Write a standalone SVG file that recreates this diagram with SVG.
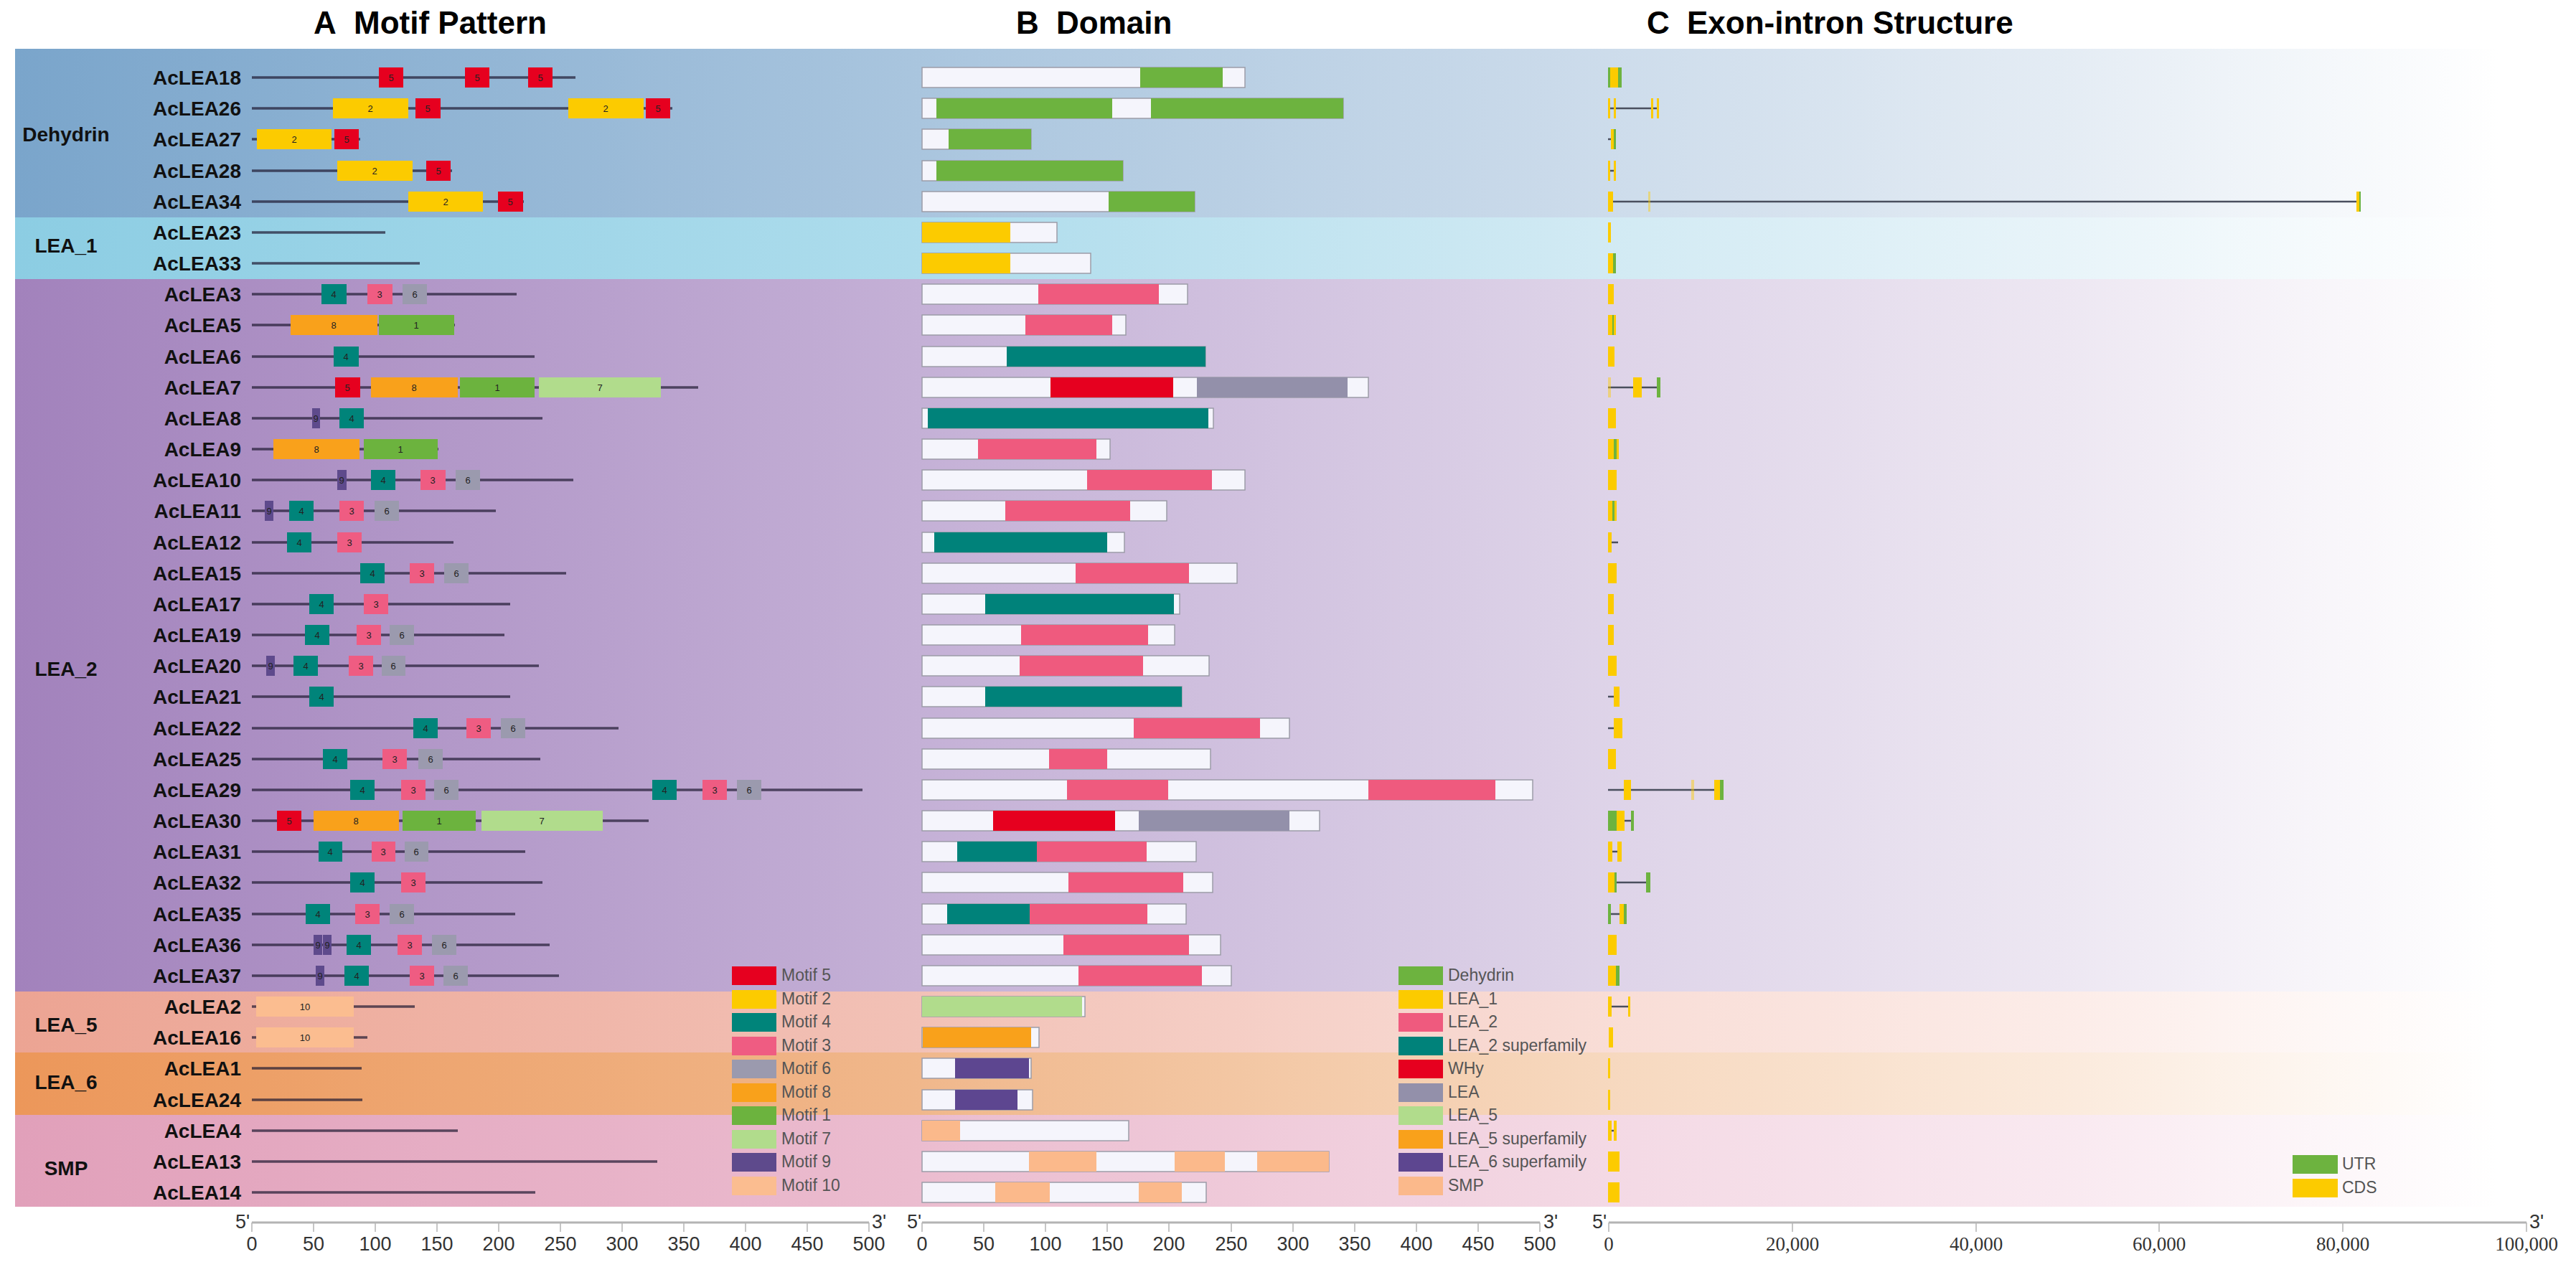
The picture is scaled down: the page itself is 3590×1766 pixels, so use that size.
<svg xmlns="http://www.w3.org/2000/svg" width="3590" height="1766" viewBox="0 0 3590 1766">
<style>
text{font-family:"Liberation Sans",Arial,sans-serif}
.ttl{font-weight:bold;font-size:44px;fill:#000}
.lbl{font-weight:bold;font-size:28px;text-anchor:end;fill:#111}
.grp{font-weight:bold;font-size:28px;text-anchor:middle;fill:#111}
.ml{stroke:#1e1830;stroke-opacity:.7;stroke-width:3.5}
.mt{font-size:13px;text-anchor:middle;fill:#222}
.m1{fill:#6cb33e}.m2{fill:#fccb00}.m3{fill:#ef5c82}.m4{fill:#00847a}.m5{fill:#e6001f}
.m6{fill:#9b9aae}.m7{fill:#b1dc8c}.m8{fill:#f9a11b}.m9{fill:#5e4a8c}.m10{fill:#fbbd90}
.bar{fill:#f5f5fc;stroke:#9c9ca8;stroke-width:1.5}
.dDeh{fill:#6db33f}.dL1{fill:#fccb00}.dL2{fill:#ef5a7e}.dL2s{fill:#00827a}.dWHy{fill:#e6001f}
.dLEA{fill:#9390aa}.dL5{fill:#b1dc8c}.dL5s{fill:#f9a11b}.dL6s{fill:#5d4690}.dSMP{fill:#fbb98b}
.Y{fill:#fccb00}.G{fill:#6db33f}.Yf{fill:#fccb00;opacity:.45}
.in{stroke:#4a4f5e;stroke-width:2.5}
.leg{font-size:23px;fill:#555}
.ax{stroke:#b4b4b4;stroke-width:3}
.tk{stroke:#b4b4b4;stroke-width:1.5}
.tl{font-size:27px;fill:#333;text-anchor:middle}
.tls{font-family:"Liberation Serif","Times New Roman",serif;font-size:27px;fill:#333;text-anchor:middle}
.pr{font-size:27px;fill:#333}
</style>
<defs>
<linearGradient id="gDeh" gradientUnits="userSpaceOnUse" x1="21" y1="0" x2="3590" y2="0">
<stop offset="0" stop-color="#7aa5cb"/><stop offset="0.35" stop-color="#a9c5de"/><stop offset="0.6" stop-color="#cadaea"/><stop offset="0.8" stop-color="#e4ecf4"/><stop offset="0.97" stop-color="#ffffff"/></linearGradient>
<linearGradient id="gL1" gradientUnits="userSpaceOnUse" x1="21" y1="0" x2="3590" y2="0">
<stop offset="0" stop-color="#8ccde3"/><stop offset="0.35" stop-color="#addcec"/><stop offset="0.6" stop-color="#cfe9f3"/><stop offset="0.8" stop-color="#e8f4f9"/><stop offset="0.97" stop-color="#ffffff"/></linearGradient>
<linearGradient id="gL2" gradientUnits="userSpaceOnUse" x1="21" y1="0" x2="3590" y2="0">
<stop offset="0" stop-color="#a282bc"/><stop offset="0.35" stop-color="#c4b0d6"/><stop offset="0.6" stop-color="#dcd1e7"/><stop offset="0.8" stop-color="#ede7f2"/><stop offset="0.97" stop-color="#ffffff"/></linearGradient>
<linearGradient id="gL5" gradientUnits="userSpaceOnUse" x1="21" y1="0" x2="3590" y2="0">
<stop offset="0" stop-color="#eca493"/><stop offset="0.35" stop-color="#f2c1b6"/><stop offset="0.6" stop-color="#f8dbd4"/><stop offset="0.8" stop-color="#fcece8"/><stop offset="0.97" stop-color="#ffffff"/></linearGradient>
<linearGradient id="gL6" gradientUnits="userSpaceOnUse" x1="21" y1="0" x2="3590" y2="0">
<stop offset="0" stop-color="#ec975a"/><stop offset="0.35" stop-color="#f0b78b"/><stop offset="0.6" stop-color="#f6d6bb"/><stop offset="0.8" stop-color="#fbeadc"/><stop offset="0.97" stop-color="#ffffff"/></linearGradient>
<linearGradient id="gSMP" gradientUnits="userSpaceOnUse" x1="21" y1="0" x2="3590" y2="0">
<stop offset="0" stop-color="#e1a0ba"/><stop offset="0.35" stop-color="#ebbccf"/><stop offset="0.6" stop-color="#f3d7e3"/><stop offset="0.8" stop-color="#f9e9f0"/><stop offset="0.97" stop-color="#ffffff"/></linearGradient>
</defs>
<rect width="3590" height="1766" fill="#ffffff"/>
<g id="bands">
<rect x="21" y="68" width="3569" height="235" fill="url(#gDeh)"/>
<rect x="21" y="303" width="3569" height="86" fill="url(#gL1)"/>
<rect x="21" y="389" width="3569" height="993" fill="url(#gL2)"/>
<rect x="21" y="1382" width="3569" height="85" fill="url(#gL5)"/>
<rect x="21" y="1467" width="3569" height="87" fill="url(#gL6)"/>
<rect x="21" y="1554" width="3569" height="128" fill="url(#gSMP)"/>
</g>
<g id="titles">
<text class="ttl" x="437" y="47">A<tspan x="493">Motif Pattern</tspan></text>
<text class="ttl" x="1416" y="47">B<tspan x="1472">Domain</tspan></text>
<text class="ttl" x="2295" y="47">C<tspan x="2351">Exon-intron Structure</tspan></text>
</g>
<g id="groups">
<text class="grp" x="92" y="197">Dehydrin</text>
<text class="grp" x="92" y="352">LEA_1</text>
<text class="grp" x="92" y="942">LEA_2</text>
<text class="grp" x="92" y="1438">LEA_5</text>
<text class="grp" x="92" y="1518">LEA_6</text>
<text class="grp" x="92" y="1638">SMP</text>
</g>
<g id="genes">
<g id="AcLEA18" transform="translate(0,108)"><text class="lbl" x="336" y="10">AcLEA18</text>
<line class="ml" x1="351" y1="0" x2="802" y2="0"/>
<rect class="m5" x="528" y="-14" width="34" height="28"/><text class="mt" x="545" y="5">5</text>
<rect class="m5" x="648" y="-14" width="34" height="28"/><text class="mt" x="665" y="5">5</text>
<rect class="m5" x="736" y="-14" width="34" height="28"/><text class="mt" x="753" y="5">5</text>
<rect class="bar" x="1285" y="-14" width="450" height="28"/><rect class="dDeh" x="1589" y="-14" width="115" height="28"/>
<rect class="Y" x="2241" y="-14" width="19" height="28"/><rect class="G" x="2241" y="-14" width="3" height="28"/><rect class="G" x="2255" y="-14" width="5" height="28"/>
</g>
<g id="AcLEA26" transform="translate(0,151)"><text class="lbl" x="336" y="10">AcLEA26</text>
<line class="ml" x1="351" y1="0" x2="937" y2="0"/>
<rect class="m2" x="464" y="-14" width="105" height="28"/><text class="mt" x="516" y="5">2</text>
<rect class="m5" x="579" y="-14" width="35" height="28"/><text class="mt" x="596" y="5">5</text>
<rect class="m2" x="792" y="-14" width="105" height="28"/><text class="mt" x="844" y="5">2</text>
<rect class="m5" x="900" y="-14" width="34" height="28"/><text class="mt" x="917" y="5">5</text>
<rect class="bar" x="1285" y="-14" width="587" height="28"/><rect class="dDeh" x="1305" y="-14" width="245" height="28"/><rect class="dDeh" x="1604" y="-14" width="268" height="28"/>
<line class="in" x1="2244" y1="0" x2="2309" y2="0"/>
<rect class="Y" x="2241" y="-14" width="3" height="28"/><rect class="Y" x="2249" y="-14" width="3" height="28"/><rect class="Y" x="2301" y="-14" width="3" height="28"/><rect class="Y" x="2309" y="-14" width="3" height="28"/>
</g>
<g id="AcLEA27" transform="translate(0,194)"><text class="lbl" x="336" y="10">AcLEA27</text>
<line class="ml" x1="351" y1="0" x2="502" y2="0"/>
<rect class="m2" x="358" y="-14" width="104" height="28"/><text class="mt" x="410" y="5">2</text>
<rect class="m5" x="466" y="-14" width="34" height="28"/><text class="mt" x="483" y="5">5</text>
<rect class="bar" x="1285" y="-14" width="152" height="28"/><rect class="dDeh" x="1322" y="-14" width="115" height="28"/>
<line class="in" x1="2241" y1="0" x2="2245" y2="0"/><rect class="Y" x="2245" y="-14" width="4" height="28"/><rect class="G" x="2249" y="-14" width="3" height="28"/>
</g>
<g id="AcLEA28" transform="translate(0,238)"><text class="lbl" x="336" y="10">AcLEA28</text>
<line class="ml" x1="351" y1="0" x2="630" y2="0"/>
<rect class="m2" x="470" y="-14" width="105" height="28"/><text class="mt" x="522" y="5">2</text>
<rect class="m5" x="594" y="-14" width="34" height="28"/><text class="mt" x="611" y="5">5</text>
<rect class="bar" x="1285" y="-14" width="280" height="28"/><rect class="dDeh" x="1305" y="-14" width="260" height="28"/>
<line class="in" x1="2244" y1="0" x2="2249" y2="0"/><rect class="Y" x="2241" y="-14" width="3" height="28"/><rect class="Y" x="2249" y="-14" width="3" height="28"/>
</g>
<g id="AcLEA34" transform="translate(0,281)"><text class="lbl" x="336" y="10">AcLEA34</text>
<line class="ml" x1="351" y1="0" x2="730" y2="0"/>
<rect class="m2" x="569" y="-14" width="104" height="28"/><text class="mt" x="621" y="5">2</text>
<rect class="m5" x="694" y="-14" width="35" height="28"/><text class="mt" x="711" y="5">5</text>
<rect class="bar" x="1285" y="-14" width="380" height="28"/><rect class="dDeh" x="1545" y="-14" width="120" height="28"/>
<line class="in" x1="2248" y1="0" x2="3288" y2="0" stroke-width="3.5"/>
<rect class="Y" x="2241" y="-14" width="7" height="28"/><rect class="Yf" x="2297" y="-14" width="3" height="28"/><rect class="Y" x="3284" y="-14" width="4" height="28"/><rect class="G" x="3288" y="-14" width="2" height="28"/>
</g>
<g id="AcLEA23" transform="translate(0,324)"><text class="lbl" x="336" y="10">AcLEA23</text>
<line class="ml" x1="351" y1="0" x2="537" y2="0"/>
<rect class="bar" x="1285" y="-14" width="188" height="28"/><rect class="dL1" x="1285" y="-14" width="123" height="28"/>
<rect class="Y" x="2241" y="-14" width="4" height="28"/>
</g>
<g id="AcLEA33" transform="translate(0,367)"><text class="lbl" x="336" y="10">AcLEA33</text>
<line class="ml" x1="351" y1="0" x2="585" y2="0"/>
<rect class="bar" x="1285" y="-14" width="235" height="28"/><rect class="dL1" x="1285" y="-14" width="123" height="28"/>
<rect class="Y" x="2241" y="-14" width="7" height="28"/><rect class="G" x="2248" y="-14" width="4" height="28"/>
</g>
<g id="AcLEA3" transform="translate(0,410)"><text class="lbl" x="336" y="10">AcLEA3</text>
<line class="ml" x1="351" y1="0" x2="720" y2="0"/>
<rect class="m4" x="448" y="-14" width="35" height="28"/><text class="mt" x="465" y="5">4</text>
<rect class="m3" x="512" y="-14" width="35" height="28"/><text class="mt" x="529" y="5">3</text>
<rect class="m6" x="561" y="-14" width="34" height="28"/><text class="mt" x="578" y="5">6</text>
<rect class="bar" x="1285" y="-14" width="370" height="28"/><rect class="dL2" x="1447" y="-14" width="168" height="28"/>
<rect class="Y" x="2241" y="-14" width="8" height="28"/>
</g>
<g id="AcLEA5" transform="translate(0,453)"><text class="lbl" x="336" y="10">AcLEA5</text>
<line class="ml" x1="351" y1="0" x2="634" y2="0"/>
<rect class="m8" x="405" y="-14" width="121" height="28"/><text class="mt" x="465" y="5">8</text>
<rect class="m1" x="528" y="-14" width="105" height="28"/><text class="mt" x="580" y="5">1</text>
<rect class="bar" x="1285" y="-14" width="284" height="28"/><rect class="dL2" x="1429" y="-14" width="121" height="28"/>
<rect class="Y" x="2241" y="-14" width="6" height="28"/><rect class="G" x="2247" y="-14" width="2" height="28"/><rect class="Y" x="2249" y="-14" width="3" height="28"/>
</g>
<g id="AcLEA6" transform="translate(0,497)"><text class="lbl" x="336" y="10">AcLEA6</text>
<line class="ml" x1="351" y1="0" x2="745" y2="0"/>
<rect class="m4" x="465" y="-14" width="35" height="28"/><text class="mt" x="482" y="5">4</text>
<rect class="bar" x="1285" y="-14" width="395" height="28"/><rect class="dL2s" x="1403" y="-14" width="277" height="28"/>
<rect class="Y" x="2241" y="-14" width="9" height="28"/>
</g>
<g id="AcLEA7" transform="translate(0,540)"><text class="lbl" x="336" y="10">AcLEA7</text>
<line class="ml" x1="351" y1="0" x2="973" y2="0"/>
<rect class="m5" x="467" y="-14" width="35" height="28"/><text class="mt" x="484" y="5">5</text>
<rect class="m8" x="517" y="-14" width="121" height="28"/><text class="mt" x="577" y="5">8</text>
<rect class="m1" x="641" y="-14" width="104" height="28"/><text class="mt" x="693" y="5">1</text>
<rect class="m7" x="751" y="-14" width="170" height="28"/><text class="mt" x="836" y="5">7</text>
<rect class="bar" x="1285" y="-14" width="622" height="28"/><rect class="dWHy" x="1464" y="-14" width="171" height="28"/><rect class="dLEA" x="1668" y="-14" width="210" height="28"/>
<line class="in" x1="2241" y1="0" x2="2310" y2="0"/><rect class="Yf" x="2241" y="-14" width="4" height="28"/><rect class="Y" x="2276" y="-14" width="12" height="28"/><rect class="G" x="2309" y="-14" width="5" height="28"/>
</g>
<g id="AcLEA8" transform="translate(0,583)"><text class="lbl" x="336" y="10">AcLEA8</text>
<line class="ml" x1="351" y1="0" x2="756" y2="0"/>
<rect class="m9" x="435" y="-14" width="11" height="28"/><text class="mt" x="440" y="5">9</text>
<rect class="m4" x="473" y="-14" width="34" height="28"/><text class="mt" x="490" y="5">4</text>
<rect class="bar" x="1285" y="-14" width="406" height="28"/><rect class="dL2s" x="1293" y="-14" width="391" height="28"/>
<rect class="Y" x="2241" y="-14" width="11" height="28"/>
</g>
<g id="AcLEA9" transform="translate(0,626)"><text class="lbl" x="336" y="10">AcLEA9</text>
<line class="ml" x1="351" y1="0" x2="611" y2="0"/>
<rect class="m8" x="381" y="-14" width="120" height="28"/><text class="mt" x="441" y="5">8</text>
<rect class="m1" x="507" y="-14" width="103" height="28"/><text class="mt" x="558" y="5">1</text>
<rect class="bar" x="1285" y="-14" width="262" height="28"/><rect class="dL2" x="1363" y="-14" width="165" height="28"/>
<rect class="Y" x="2241" y="-14" width="8" height="28"/><rect class="G" x="2249" y="-14" width="4" height="28"/><rect class="Y" x="2253" y="-14" width="3" height="28"/>
</g>
<g id="AcLEA10" transform="translate(0,669)"><text class="lbl" x="336" y="10">AcLEA10</text>
<line class="ml" x1="351" y1="0" x2="799" y2="0"/>
<rect class="m9" x="470" y="-14" width="13" height="28"/><text class="mt" x="476" y="5">9</text>
<rect class="m4" x="517" y="-14" width="34" height="28"/><text class="mt" x="534" y="5">4</text>
<rect class="m3" x="586" y="-14" width="35" height="28"/><text class="mt" x="603" y="5">3</text>
<rect class="m6" x="635" y="-14" width="34" height="28"/><text class="mt" x="652" y="5">6</text>
<rect class="bar" x="1285" y="-14" width="450" height="28"/><rect class="dL2" x="1515" y="-14" width="174" height="28"/>
<rect class="Y" x="2241" y="-14" width="12" height="28"/>
</g>
<g id="AcLEA11" transform="translate(0,712)"><text class="lbl" x="336" y="10">AcLEA11</text>
<line class="ml" x1="351" y1="0" x2="691" y2="0"/>
<rect class="m9" x="369" y="-14" width="12" height="28"/><text class="mt" x="375" y="5">9</text>
<rect class="m4" x="403" y="-14" width="34" height="28"/><text class="mt" x="420" y="5">4</text>
<rect class="m3" x="473" y="-14" width="34" height="28"/><text class="mt" x="490" y="5">3</text>
<rect class="m6" x="522" y="-14" width="34" height="28"/><text class="mt" x="539" y="5">6</text>
<rect class="bar" x="1285" y="-14" width="341" height="28"/><rect class="dL2" x="1401" y="-14" width="174" height="28"/>
<rect class="Y" x="2241" y="-14" width="6" height="28"/><rect class="G" x="2247" y="-14" width="3" height="28"/><rect class="Y" x="2250" y="-14" width="3" height="28"/>
</g>
<g id="AcLEA12" transform="translate(0,756)"><text class="lbl" x="336" y="10">AcLEA12</text>
<line class="ml" x1="351" y1="0" x2="632" y2="0"/>
<rect class="m4" x="400" y="-14" width="34" height="28"/><text class="mt" x="417" y="5">4</text>
<rect class="m3" x="470" y="-14" width="34" height="28"/><text class="mt" x="487" y="5">3</text>
<rect class="bar" x="1285" y="-14" width="282" height="28"/><rect class="dL2s" x="1302" y="-14" width="241" height="28"/>
<line class="in" x1="2246" y1="0" x2="2255" y2="0"/><rect class="Y" x="2241" y="-14" width="5" height="28"/>
</g>
<g id="AcLEA15" transform="translate(0,799)"><text class="lbl" x="336" y="10">AcLEA15</text>
<line class="ml" x1="351" y1="0" x2="789" y2="0"/>
<rect class="m4" x="502" y="-14" width="34" height="28"/><text class="mt" x="519" y="5">4</text>
<rect class="m3" x="571" y="-14" width="34" height="28"/><text class="mt" x="588" y="5">3</text>
<rect class="m6" x="619" y="-14" width="34" height="28"/><text class="mt" x="636" y="5">6</text>
<rect class="bar" x="1285" y="-14" width="439" height="28"/><rect class="dL2" x="1499" y="-14" width="158" height="28"/>
<rect class="Y" x="2241" y="-14" width="12" height="28"/>
</g>
<g id="AcLEA17" transform="translate(0,842)"><text class="lbl" x="336" y="10">AcLEA17</text>
<line class="ml" x1="351" y1="0" x2="711" y2="0"/>
<rect class="m4" x="431" y="-14" width="34" height="28"/><text class="mt" x="448" y="5">4</text>
<rect class="m3" x="507" y="-14" width="34" height="28"/><text class="mt" x="524" y="5">3</text>
<rect class="bar" x="1285" y="-14" width="359" height="28"/><rect class="dL2s" x="1373" y="-14" width="263" height="28"/>
<rect class="Y" x="2241" y="-14" width="8" height="28"/>
</g>
<g id="AcLEA19" transform="translate(0,885)"><text class="lbl" x="336" y="10">AcLEA19</text>
<line class="ml" x1="351" y1="0" x2="703" y2="0"/>
<rect class="m4" x="425" y="-14" width="34" height="28"/><text class="mt" x="442" y="5">4</text>
<rect class="m3" x="497" y="-14" width="34" height="28"/><text class="mt" x="514" y="5">3</text>
<rect class="m6" x="543" y="-14" width="34" height="28"/><text class="mt" x="560" y="5">6</text>
<rect class="bar" x="1285" y="-14" width="352" height="28"/><rect class="dL2" x="1423" y="-14" width="177" height="28"/>
<rect class="Y" x="2241" y="-14" width="8" height="28"/>
</g>
<g id="AcLEA20" transform="translate(0,928)"><text class="lbl" x="336" y="10">AcLEA20</text>
<line class="ml" x1="351" y1="0" x2="751" y2="0"/>
<rect class="m9" x="371" y="-14" width="12" height="28"/><text class="mt" x="377" y="5">9</text>
<rect class="m4" x="409" y="-14" width="34" height="28"/><text class="mt" x="426" y="5">4</text>
<rect class="m3" x="486" y="-14" width="34" height="28"/><text class="mt" x="503" y="5">3</text>
<rect class="m6" x="532" y="-14" width="33" height="28"/><text class="mt" x="548" y="5">6</text>
<rect class="bar" x="1285" y="-14" width="400" height="28"/><rect class="dL2" x="1421" y="-14" width="172" height="28"/>
<rect class="Y" x="2241" y="-14" width="12" height="28"/>
</g>
<g id="AcLEA21" transform="translate(0,971)"><text class="lbl" x="336" y="10">AcLEA21</text>
<line class="ml" x1="351" y1="0" x2="711" y2="0"/>
<rect class="m4" x="431" y="-14" width="34" height="28"/><text class="mt" x="448" y="5">4</text>
<rect class="bar" x="1285" y="-14" width="362" height="28"/><rect class="dL2s" x="1373" y="-14" width="274" height="28"/>
<line class="in" x1="2241" y1="0" x2="2249" y2="0"/><rect class="Y" x="2249" y="-14" width="8" height="28"/>
</g>
<g id="AcLEA22" transform="translate(0,1015)"><text class="lbl" x="336" y="10">AcLEA22</text>
<line class="ml" x1="351" y1="0" x2="862" y2="0"/>
<rect class="m4" x="576" y="-14" width="34" height="28"/><text class="mt" x="593" y="5">4</text>
<rect class="m3" x="650" y="-14" width="34" height="28"/><text class="mt" x="667" y="5">3</text>
<rect class="m6" x="698" y="-14" width="34" height="28"/><text class="mt" x="715" y="5">6</text>
<rect class="bar" x="1285" y="-14" width="512" height="28"/><rect class="dL2" x="1580" y="-14" width="176" height="28"/>
<line class="in" x1="2241" y1="0" x2="2249" y2="0"/><rect class="Y" x="2249" y="-14" width="12" height="28"/>
</g>
<g id="AcLEA25" transform="translate(0,1058)"><text class="lbl" x="336" y="10">AcLEA25</text>
<line class="ml" x1="351" y1="0" x2="753" y2="0"/>
<rect class="m4" x="450" y="-14" width="34" height="28"/><text class="mt" x="467" y="5">4</text>
<rect class="m3" x="533" y="-14" width="34" height="28"/><text class="mt" x="550" y="5">3</text>
<rect class="m6" x="583" y="-14" width="34" height="28"/><text class="mt" x="600" y="5">6</text>
<rect class="bar" x="1285" y="-14" width="402" height="28"/><rect class="dL2" x="1462" y="-14" width="81" height="28"/>
<rect class="Y" x="2241" y="-14" width="11" height="28"/>
</g>
<g id="AcLEA29" transform="translate(0,1101)"><text class="lbl" x="336" y="10">AcLEA29</text>
<line class="ml" x1="351" y1="0" x2="1202" y2="0"/>
<rect class="m4" x="488" y="-14" width="34" height="28"/><text class="mt" x="505" y="5">4</text>
<rect class="m3" x="559" y="-14" width="34" height="28"/><text class="mt" x="576" y="5">3</text>
<rect class="m6" x="605" y="-14" width="34" height="28"/><text class="mt" x="622" y="5">6</text>
<rect class="m4" x="909" y="-14" width="34" height="28"/><text class="mt" x="926" y="5">4</text>
<rect class="m3" x="979" y="-14" width="34" height="28"/><text class="mt" x="996" y="5">3</text>
<rect class="m6" x="1027" y="-14" width="34" height="28"/><text class="mt" x="1044" y="5">6</text>
<rect class="bar" x="1285" y="-14" width="851" height="28"/><rect class="dL2" x="1487" y="-14" width="141" height="28"/><rect class="dL2" x="1907" y="-14" width="177" height="28"/>
<line class="in" x1="2241" y1="0" x2="2402" y2="0"/><rect class="Y" x="2263" y="-14" width="10" height="28"/><rect class="Yf" x="2357" y="-14" width="4" height="28"/><rect class="Y" x="2389" y="-14" width="8" height="28"/><rect class="G" x="2397" y="-14" width="5" height="28"/>
</g>
<g id="AcLEA30" transform="translate(0,1144)"><text class="lbl" x="336" y="10">AcLEA30</text>
<line class="ml" x1="351" y1="0" x2="904" y2="0"/>
<rect class="m5" x="386" y="-14" width="34" height="28"/><text class="mt" x="403" y="5">5</text>
<rect class="m8" x="437" y="-14" width="119" height="28"/><text class="mt" x="496" y="5">8</text>
<rect class="m1" x="561" y="-14" width="102" height="28"/><text class="mt" x="612" y="5">1</text>
<rect class="m7" x="671" y="-14" width="169" height="28"/><text class="mt" x="755" y="5">7</text>
<rect class="bar" x="1285" y="-14" width="554" height="28"/><rect class="dWHy" x="1384" y="-14" width="170" height="28"/><rect class="dLEA" x="1587" y="-14" width="210" height="28"/>
<line class="in" x1="2264" y1="0" x2="2274" y2="0"/><rect class="G" x="2241" y="-14" width="12" height="28"/><rect class="Y" x="2253" y="-14" width="11" height="28"/><rect class="G" x="2273" y="-14" width="4" height="28"/>
</g>
<g id="AcLEA31" transform="translate(0,1187)"><text class="lbl" x="336" y="10">AcLEA31</text>
<line class="ml" x1="351" y1="0" x2="732" y2="0"/>
<rect class="m4" x="444" y="-14" width="33" height="28"/><text class="mt" x="460" y="5">4</text>
<rect class="m3" x="518" y="-14" width="33" height="28"/><text class="mt" x="534" y="5">3</text>
<rect class="m6" x="564" y="-14" width="33" height="28"/><text class="mt" x="580" y="5">6</text>
<rect class="bar" x="1285" y="-14" width="382" height="28"/><rect class="dL2s" x="1334" y="-14" width="111" height="28"/><rect class="dL2" x="1445" y="-14" width="153" height="28"/>
<line class="in" x1="2247" y1="0" x2="2254" y2="0"/><rect class="Y" x="2241" y="-14" width="6" height="28"/><rect class="Y" x="2254" y="-14" width="6" height="28"/>
</g>
<g id="AcLEA32" transform="translate(0,1230)"><text class="lbl" x="336" y="10">AcLEA32</text>
<line class="ml" x1="351" y1="0" x2="756" y2="0"/>
<rect class="m4" x="488" y="-14" width="34" height="28"/><text class="mt" x="505" y="5">4</text>
<rect class="m3" x="559" y="-14" width="34" height="28"/><text class="mt" x="576" y="5">3</text>
<rect class="bar" x="1285" y="-14" width="405" height="28"/><rect class="dL2" x="1489" y="-14" width="160" height="28"/>
<line class="in" x1="2253" y1="0" x2="2295" y2="0"/><rect class="Y" x="2241" y="-14" width="9" height="28"/><rect class="G" x="2250" y="-14" width="3" height="28"/><rect class="G" x="2294" y="-14" width="6" height="28"/>
</g>
<g id="AcLEA35" transform="translate(0,1274)"><text class="lbl" x="336" y="10">AcLEA35</text>
<line class="ml" x1="351" y1="0" x2="718" y2="0"/>
<rect class="m4" x="426" y="-14" width="34" height="28"/><text class="mt" x="443" y="5">4</text>
<rect class="m3" x="495" y="-14" width="34" height="28"/><text class="mt" x="512" y="5">3</text>
<rect class="m6" x="543" y="-14" width="34" height="28"/><text class="mt" x="560" y="5">6</text>
<rect class="bar" x="1285" y="-14" width="368" height="28"/><rect class="dL2s" x="1320" y="-14" width="115" height="28"/><rect class="dL2" x="1435" y="-14" width="164" height="28"/>
<line class="in" x1="2245" y1="0" x2="2257" y2="0"/><rect class="G" x="2241" y="-14" width="4" height="28"/><rect class="Y" x="2257" y="-14" width="6" height="28"/><rect class="G" x="2263" y="-14" width="4" height="28"/>
</g>
<g id="AcLEA36" transform="translate(0,1317)"><text class="lbl" x="336" y="10">AcLEA36</text>
<line class="ml" x1="351" y1="0" x2="766" y2="0"/>
<rect class="m9" x="437" y="-14" width="12" height="28"/><text class="mt" x="443" y="5">9</text>
<rect class="m9" x="450" y="-14" width="12" height="28"/><text class="mt" x="456" y="5">9</text>
<rect class="m4" x="483" y="-14" width="34" height="28"/><text class="mt" x="500" y="5">4</text>
<rect class="m3" x="554" y="-14" width="34" height="28"/><text class="mt" x="571" y="5">3</text>
<rect class="m6" x="602" y="-14" width="34" height="28"/><text class="mt" x="619" y="5">6</text>
<rect class="bar" x="1285" y="-14" width="416" height="28"/><rect class="dL2" x="1482" y="-14" width="175" height="28"/>
<rect class="Y" x="2241" y="-14" width="12" height="28"/>
</g>
<g id="AcLEA37" transform="translate(0,1360)"><text class="lbl" x="336" y="10">AcLEA37</text>
<line class="ml" x1="351" y1="0" x2="779" y2="0"/>
<rect class="m9" x="440" y="-14" width="12" height="28"/><text class="mt" x="446" y="5">9</text>
<rect class="m4" x="480" y="-14" width="34" height="28"/><text class="mt" x="497" y="5">4</text>
<rect class="m3" x="571" y="-14" width="34" height="28"/><text class="mt" x="588" y="5">3</text>
<rect class="m6" x="618" y="-14" width="34" height="28"/><text class="mt" x="635" y="5">6</text>
<rect class="bar" x="1285" y="-14" width="431" height="28"/><rect class="dL2" x="1503" y="-14" width="172" height="28"/>
<rect class="Y" x="2241" y="-14" width="11" height="28"/><rect class="G" x="2252" y="-14" width="5" height="28"/>
</g>
<g id="AcLEA2" transform="translate(0,1403)"><text class="lbl" x="336" y="10">AcLEA2</text>
<line class="ml" x1="351" y1="0" x2="578" y2="0"/>
<rect class="m10" x="357" y="-14" width="136" height="28"/><text class="mt" x="425" y="5">10</text>
<rect class="bar" x="1285" y="-14" width="227" height="28"/><rect class="dL5" x="1285" y="-14" width="223" height="28"/>
<line class="in" x1="2246" y1="0" x2="2271" y2="0"/><rect class="Y" x="2241" y="-14" width="5" height="28"/><rect class="Y" x="2269" y="-14" width="3" height="28"/>
</g>
<g id="AcLEA16" transform="translate(0,1446)"><text class="lbl" x="336" y="10">AcLEA16</text>
<line class="ml" x1="351" y1="0" x2="512" y2="0"/>
<rect class="m10" x="357" y="-14" width="136" height="28"/><text class="mt" x="425" y="5">10</text>
<rect class="bar" x="1285" y="-14" width="163" height="28"/><rect class="dL5s" x="1286" y="-14" width="151" height="28"/>
<rect class="Y" x="2242" y="-14" width="6" height="28"/>
</g>
<g id="AcLEA1" transform="translate(0,1489)"><text class="lbl" x="336" y="10">AcLEA1</text>
<line class="ml" x1="351" y1="0" x2="504" y2="0"/>
<rect class="bar" x="1285" y="-14" width="152" height="28"/><rect class="dL6s" x="1331" y="-14" width="103" height="28"/>
<rect class="Y" x="2241" y="-14" width="3" height="28"/>
</g>
<g id="AcLEA24" transform="translate(0,1533)"><text class="lbl" x="336" y="10">AcLEA24</text>
<line class="ml" x1="351" y1="0" x2="505" y2="0"/>
<rect class="bar" x="1285" y="-14" width="154" height="28"/><rect class="dL6s" x="1331" y="-14" width="87" height="28"/>
<rect class="Y" x="2241" y="-14" width="3" height="28"/>
</g>
<g id="AcLEA4" transform="translate(0,1576)"><text class="lbl" x="336" y="10">AcLEA4</text>
<line class="ml" x1="351" y1="0" x2="638" y2="0"/>
<rect class="bar" x="1285" y="-14" width="288" height="28"/><rect class="dSMP" x="1285" y="-14" width="53" height="28"/>
<line class="in" x1="2246" y1="0" x2="2249" y2="0"/><rect class="Y" x="2241" y="-14" width="5" height="28"/><rect class="Y" x="2249" y="-14" width="4" height="28"/>
</g>
<g id="AcLEA13" transform="translate(0,1619)"><text class="lbl" x="336" y="10">AcLEA13</text>
<line class="ml" x1="351" y1="0" x2="916" y2="0"/>
<rect class="bar" x="1285" y="-14" width="567" height="28"/><rect class="dSMP" x="1434" y="-14" width="94" height="28"/><rect class="dSMP" x="1637" y="-14" width="70" height="28"/><rect class="dSMP" x="1752" y="-14" width="100" height="28"/>
<rect class="Y" x="2241" y="-14" width="16" height="28"/>
</g>
<g id="AcLEA14" transform="translate(0,1662)"><text class="lbl" x="336" y="10">AcLEA14</text>
<line class="ml" x1="351" y1="0" x2="746" y2="0"/>
<rect class="bar" x="1285" y="-14" width="396" height="28"/><rect class="dSMP" x="1387" y="-14" width="76" height="28"/><rect class="dSMP" x="1587" y="-14" width="60" height="28"/>
<rect class="Y" x="2241" y="-14" width="16" height="28"/>
</g>
</g>
<g id="legendA">
<rect class="m5" x="1020" y="1347" width="62" height="26"/><text class="leg" x="1089" y="1367">Motif 5</text>
<rect class="m2" x="1020" y="1380" width="62" height="26"/><text class="leg" x="1089" y="1400">Motif 2</text>
<rect class="m4" x="1020" y="1412" width="62" height="26"/><text class="leg" x="1089" y="1432">Motif 4</text>
<rect class="m3" x="1020" y="1445" width="62" height="26"/><text class="leg" x="1089" y="1465">Motif 3</text>
<rect class="m6" x="1020" y="1477" width="62" height="26"/><text class="leg" x="1089" y="1497">Motif 6</text>
<rect class="m8" x="1020" y="1510" width="62" height="26"/><text class="leg" x="1089" y="1530">Motif 8</text>
<rect class="m1" x="1020" y="1542" width="62" height="26"/><text class="leg" x="1089" y="1562">Motif 1</text>
<rect class="m7" x="1020" y="1575" width="62" height="26"/><text class="leg" x="1089" y="1595">Motif 7</text>
<rect class="m9" x="1020" y="1607" width="62" height="26"/><text class="leg" x="1089" y="1627">Motif 9</text>
<rect class="m10" x="1020" y="1640" width="62" height="26"/><text class="leg" x="1089" y="1660">Motif 10</text>
</g>
<g id="legendB">
<rect class="dDeh" x="1949" y="1347" width="62" height="26"/><text class="leg" x="2018" y="1367">Dehydrin</text>
<rect class="dL1" x="1949" y="1380" width="62" height="26"/><text class="leg" x="2018" y="1400">LEA_1</text>
<rect class="dL2" x="1949" y="1412" width="62" height="26"/><text class="leg" x="2018" y="1432">LEA_2</text>
<rect class="dL2s" x="1949" y="1445" width="62" height="26"/><text class="leg" x="2018" y="1465">LEA_2 superfamily</text>
<rect class="dWHy" x="1949" y="1477" width="62" height="26"/><text class="leg" x="2018" y="1497">WHy</text>
<rect class="dLEA" x="1949" y="1510" width="62" height="26"/><text class="leg" x="2018" y="1530">LEA</text>
<rect class="dL5" x="1949" y="1542" width="62" height="26"/><text class="leg" x="2018" y="1562">LEA_5</text>
<rect class="dL5s" x="1949" y="1575" width="62" height="26"/><text class="leg" x="2018" y="1595">LEA_5 superfamily</text>
<rect class="dL6s" x="1949" y="1607" width="62" height="26"/><text class="leg" x="2018" y="1627">LEA_6 superfamily</text>
<rect class="dSMP" x="1949" y="1640" width="62" height="26"/><text class="leg" x="2018" y="1660">SMP</text>
</g>
<g id="legendC">
<rect class="G" x="3195" y="1610" width="63" height="26"/><text class="leg" x="3264" y="1630">UTR</text>
<rect class="Y" x="3195" y="1643" width="63" height="26"/><text class="leg" x="3264" y="1663">CDS</text>
</g>
<g id="axisA">
<line class="ax" x1="351" y1="1704" x2="1211" y2="1704"/>
<path class="tk" d="M351 1704v13M437 1704v13M523 1704v13M609 1704v13M695 1704v13M781 1704v13M867 1704v13M953 1704v13M1039 1704v13M1125 1704v13M1211 1704v13"/>
<text class="pr" x="328" y="1712">5'</text><text class="pr" x="1215" y="1712">3'</text>
<text class="tl" x="351" y="1743">0</text><text class="tl" x="437" y="1743">50</text><text class="tl" x="523" y="1743">100</text><text class="tl" x="609" y="1743">150</text><text class="tl" x="695" y="1743">200</text><text class="tl" x="781" y="1743">250</text><text class="tl" x="867" y="1743">300</text><text class="tl" x="953" y="1743">350</text><text class="tl" x="1039" y="1743">400</text><text class="tl" x="1125" y="1743">450</text><text class="tl" x="1211" y="1743">500</text>
</g>
<g id="axisB">
<line class="ax" x1="1285" y1="1704" x2="2146" y2="1704"/>
<path class="tk" d="M1285 1704v13M1371 1704v13M1457 1704v13M1543 1704v13M1629 1704v13M1716 1704v13M1802 1704v13M1888 1704v13M1974 1704v13M2060 1704v13M2146 1704v13"/>
<text class="pr" x="1264" y="1712">5'</text><text class="pr" x="2151" y="1712">3'</text>
<text class="tl" x="1285" y="1743">0</text><text class="tl" x="1371" y="1743">50</text><text class="tl" x="1457" y="1743">100</text><text class="tl" x="1543" y="1743">150</text><text class="tl" x="1629" y="1743">200</text><text class="tl" x="1716" y="1743">250</text><text class="tl" x="1802" y="1743">300</text><text class="tl" x="1888" y="1743">350</text><text class="tl" x="1974" y="1743">400</text><text class="tl" x="2060" y="1743">450</text><text class="tl" x="2146" y="1743">500</text>
</g>
<g id="axisC">
<line class="ax" x1="2242" y1="1704" x2="3521" y2="1704"/>
<path class="tk" d="M2242 1704v13M2498 1704v13M2754 1704v13M3009 1704v13M3265 1704v13M3521 1704v13"/>
<text class="pr" x="2219" y="1712">5'</text><text class="pr" x="3525" y="1712">3'</text>
<text class="tls" x="2242" y="1743">0</text><text class="tls" x="2498" y="1743">20,000</text><text class="tls" x="2754" y="1743">40,000</text><text class="tls" x="3009" y="1743">60,000</text><text class="tls" x="3265" y="1743">80,000</text><text class="tls" x="3521" y="1743">100,000</text>
</g>
</svg>
